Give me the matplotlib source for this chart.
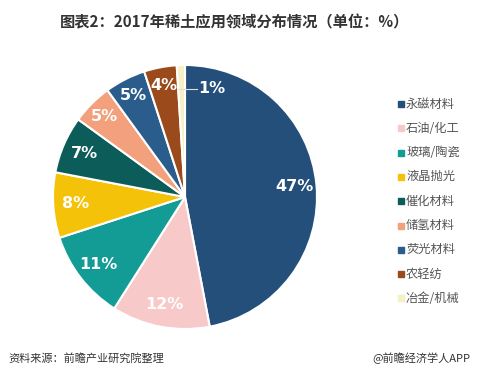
import matplotlib
matplotlib.use("Agg")
import matplotlib.pyplot as plt
import numpy as np

plt.rcParams['font.family'] = ['Noto Sans CJK SC', 'DejaVu Sans']

categories = ["永磁材料", "石油/化工", "玻璃/陶瓷", "液晶抛光", "催化材料", "储氢材料", "荧光材料", "农轻纺", "冶金/机械"]
values = [47, 12, 11, 8, 7, 5, 5, 4, 1]
colors = ["#244f7a", "#f8c9c9", "#139b95", "#f5c20a", "#0c5c5a", "#f3a07c", "#2b5d8c", "#9b4a1c", "#f6f0c6"]

W, H = 478, 379
fig = plt.figure(figsize=(W/100, H/100), dpi=100)
fig.patch.set_facecolor("white")

cx, cy, r = 185, 197, 132
ax = fig.add_axes([(cx-r)/W, (H-cy-r)/H, 2*r/W, 2*r/H])
wedges, _ = ax.pie(values, colors=colors, startangle=90, counterclock=False,
                   radius=1.0, wedgeprops=dict(edgecolor="white", linewidth=1.5))
ax.set_aspect("equal")
ax.set_xlim(-1, 1); ax.set_ylim(-1, 1)
ax.axis("off")

for w, v in zip(wedges, values):
    ang = np.deg2rad((w.theta1 + w.theta2) / 2)
    if v == 1:
        ax.plot([-0.05, 0.09], [0.82, 0.82], color="#dddddd", lw=0.8)
        ax.text(0.1, 0.82, f"{v}%", color="white", fontsize=11.5, fontweight="bold",
                ha="left", va="center", family=["DejaVu Sans"])
        continue
    d = 0.86 if v in (4, 5) else 0.83
    ax.text(d*np.cos(ang), d*np.sin(ang), f"{v}%", color="white", fontsize=11.5,
            fontweight="bold", ha="center", va="center", family=["DejaVu Sans"])

# legend
lx, ly0, dy = 405, 104, 24.3
for i, (c, lab) in enumerate(zip(colors, categories)):
    y = ly0 + i*dy
    fig.patches.append(plt.Rectangle(((lx-7)/W, (H-y-3)/H), 6/W, 6/H, color=c,
                                     transform=fig.transFigure, figure=fig))
    fig.text((lx+1)/W, (H-y)/H, lab, fontsize=8.8, color="#555555", va="center", ha="left")

fig.text(0.49, (H-22)/H, "图表2：2017年稀土应用领域分布情况（单位：%）", ha="center", va="center",
         fontsize=11, fontweight="bold", color="#333333")
fig.text(8/W, (H-358)/H, "资料来源：前瞻产业研究院整理", ha="left", va="center",
         fontsize=8, color="#333333", style="italic")
fig.text(470/W, (H-358)/H, "@前瞻经济学人APP", ha="right", va="center",
         fontsize=8, color="#333333")

fig.savefig("out.png", dpi=100, facecolor="white")
